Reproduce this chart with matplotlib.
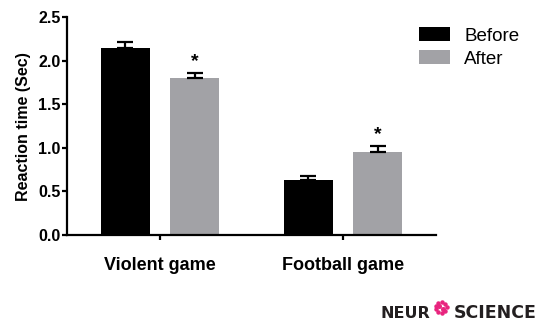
import numpy as np
import matplotlib.pyplot as plt

plt.rcParams['font.family'] = ['Liberation Sans', 'DejaVu Sans']

games = ['Violent game', 'Football game']
before = [2.15, 0.63]
after = [1.80, 0.95]
before_sem = [0.06, 0.05]
after_sem = [0.06, 0.07]
sig_after = [True, True]  # asterisk over the "After" bars

x = np.arange(len(games))
width = 0.268
offset = 0.189

fig = plt.figure(figsize=(5.45, 3.23), dpi=100)
ax = fig.add_axes([0.123, 0.2724, 0.677, 0.6746])

err_kw = dict(elinewidth=1.6, capsize=6, capthick=1.6, ecolor='black')
ax.bar(x - offset, before, width, yerr=[[0, 0], before_sem], color='black',
       label='Before', error_kw=err_kw)
ax.bar(x + offset, after, width, yerr=[[0, 0], after_sem], color='#a2a2a6',
       label='After', error_kw=err_kw)

for xi, val, err, sig in zip(x, after, after_sem, sig_after):
    if sig:
        ax.text(xi + offset, val + err + 0.03, '*', ha='center', va='bottom',
                fontsize=14, fontweight='bold')

ax.set_xlim(-0.508, 1.508)
ax.set_ylim(0, 2.5)
ax.set_yticks([0, 0.5, 1.0, 1.5, 2.0, 2.5])
ax.set_yticklabels(['0.0', '0.5', '1.0', '1.5', '2.0', '2.5'])
ax.set_xticks(x)
ax.set_xticklabels(games)
ax.tick_params(axis='y', labelsize=11.5, width=1.6, length=3.5, pad=1)
ax.tick_params(axis='x', labelsize=13, width=1.6, length=3.5, pad=12)
for lbl in ax.get_xticklabels() + ax.get_yticklabels():
    lbl.set_fontweight('bold')
ax.set_ylabel('Reaction time (Sec)', fontsize=11.5, fontweight='bold', labelpad=5)

for side in ['top', 'right']:
    ax.spines[side].set_visible(False)
for side in ['left', 'bottom']:
    ax.spines[side].set_linewidth(1.6)

fig.legend(loc='upper left', bbox_to_anchor=(419 / 545, 1 - 27 / 323),
           frameon=False, fontsize=13.5, handlelength=1.65, handleheight=0.8,
           labelspacing=0.28, handletextpad=0.75, borderpad=0, borderaxespad=0)

# journal logo in the bottom-right corner
logo = dict(fontweight='bold', color='#231f20', va='baseline', family='DejaVu Sans')
fig.text(381 / 545, 0.016, 'NEUR', ha='left', fontsize=11.5, **logo)
fig.text(454 / 545, 0.016, 'SCIENCE', ha='left', fontsize=12.5, **logo)
ang = np.linspace(0, 2 * np.pi, 9, endpoint=False)
cx, cy = 441 / 545, 0.048
fig.add_artist(plt.Line2D(cx + 0.0105 * np.cos(ang), cy + 0.0175 * np.sin(ang),
                          transform=fig.transFigure, ls='none', marker='o',
                          ms=2.2, color='#e8247e'))
fig.add_artist(plt.Line2D([cx - 0.004, cx + 0.003], [cy + 0.005, cy - 0.004],
                          transform=fig.transFigure, ls='none', marker='o',
                          ms=2.6, color='#e8247e'))

fig.savefig('out.png', dpi=100)
